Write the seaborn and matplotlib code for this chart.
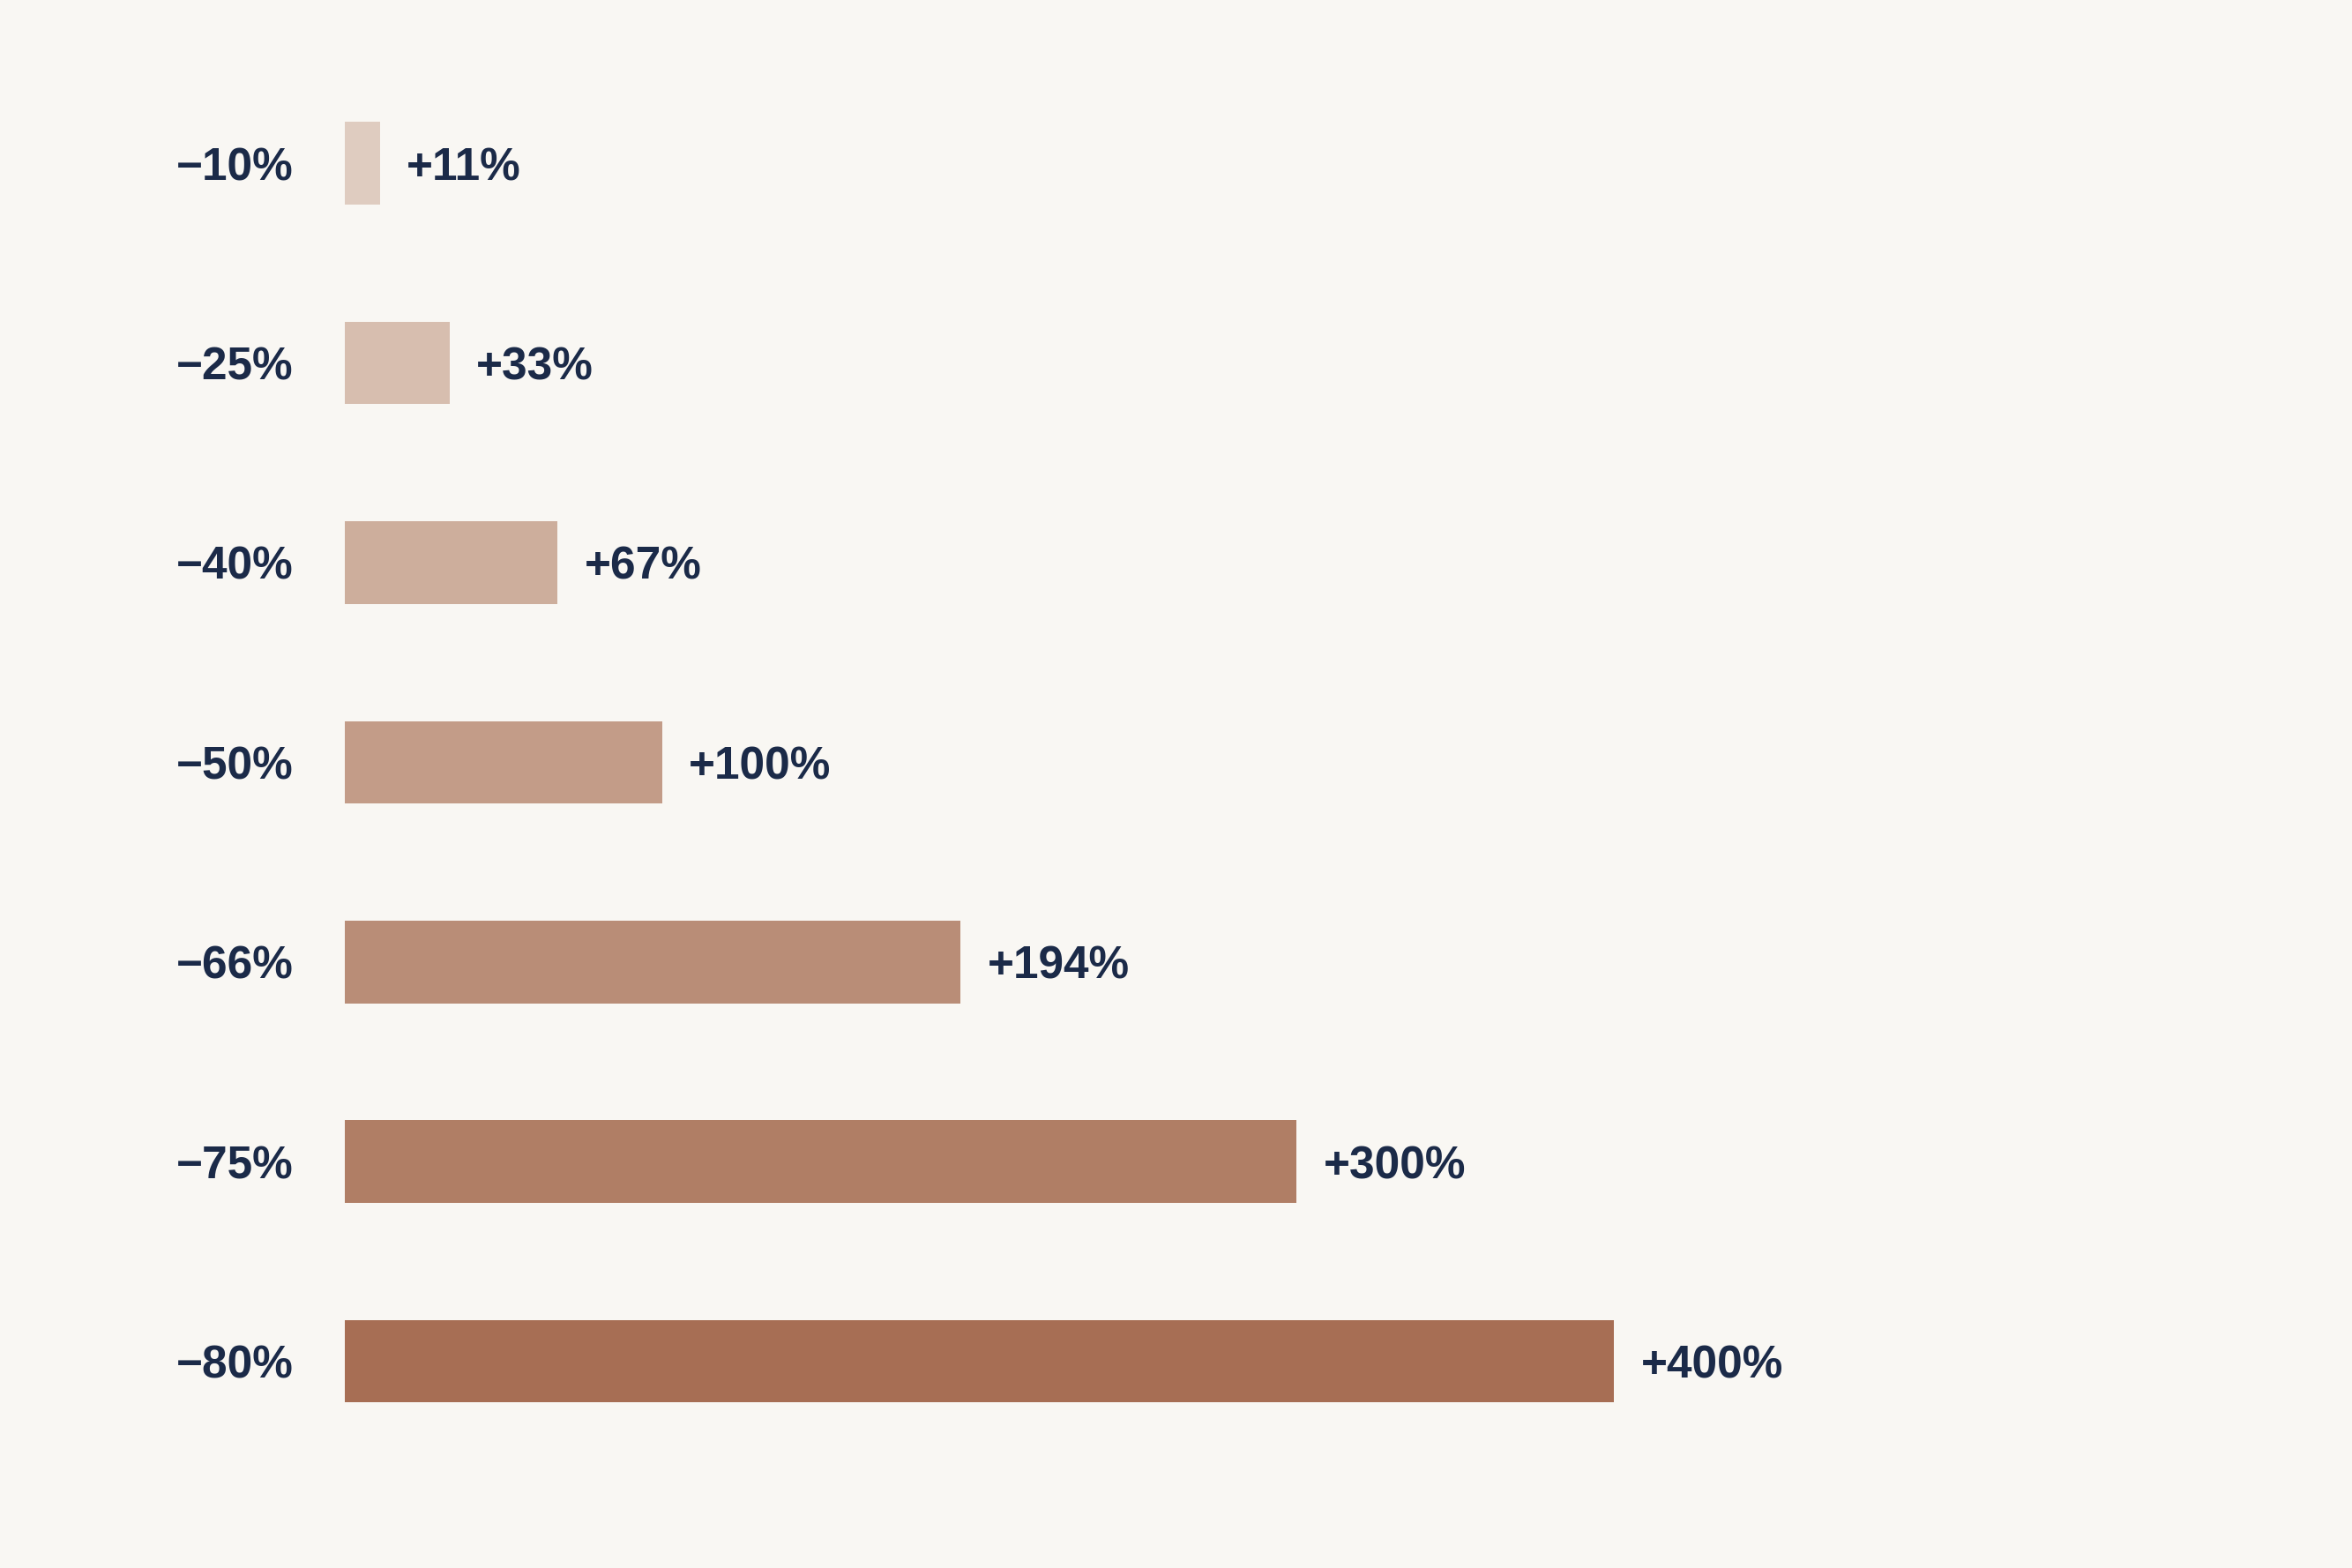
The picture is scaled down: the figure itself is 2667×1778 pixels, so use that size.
import matplotlib
matplotlib.use("Agg")
import matplotlib.pyplot as plt
import seaborn as sns
import pandas as pd

# Data: loss needed vs gain needed to recover
losses = ["\u221210%", "\u221225%", "\u221240%", "\u221250%", "\u221266%", "\u221275%", "\u221280%"]
gains = [11, 33, 67, 100, 194, 300, 400]
bar_colors = ["#DFCCC0", "#D7BEAF", "#CDAE9C", "#C39C88", "#B98D77", "#B07E65", "#A76E54"]

bg = "#F9F7F3"
navy = "#1B2A48"

df = pd.DataFrame({"loss": losses, "gain": gains})

sns.set_theme(style="white")
plt.rcParams["font.family"] = ["Liberation Sans", "DejaVu Sans"]

fig = plt.figure(figsize=(13.335, 8.89), dpi=200, facecolor=bg)
ax = fig.add_axes([0.1466, 0.0681, 0.5396, 0.8915])
ax.set_facecolor(bg)

sns.barplot(data=df, x="gain", y="loss", hue="loss", palette=bar_colors,
            orient="h", width=0.413, legend=False, ax=ax, saturation=1,
            linewidth=0, edgecolor="none")

ax.set_xlim(0, 400)
ax.set_ylim(6.5, -0.5)
ax.set_xlabel("")
ax.set_ylabel("")
ax.set_xticks([])
sns.despine(ax=ax, left=True, bottom=True)
ax.tick_params(axis="y", length=0, pad=21, labelsize=18.5, labelcolor=navy)
for lbl in ax.get_yticklabels():
    lbl.set_fontweight("bold")

# value labels at the end of each bar
for i, g in enumerate(gains):
    ax.text(g + 8.5, i, f"+{g}%", va="center_baseline", ha="left", fontsize=18.5,
            fontweight="bold", color=navy, clip_on=False)

fig.savefig("out.png", dpi=200, facecolor=bg)
